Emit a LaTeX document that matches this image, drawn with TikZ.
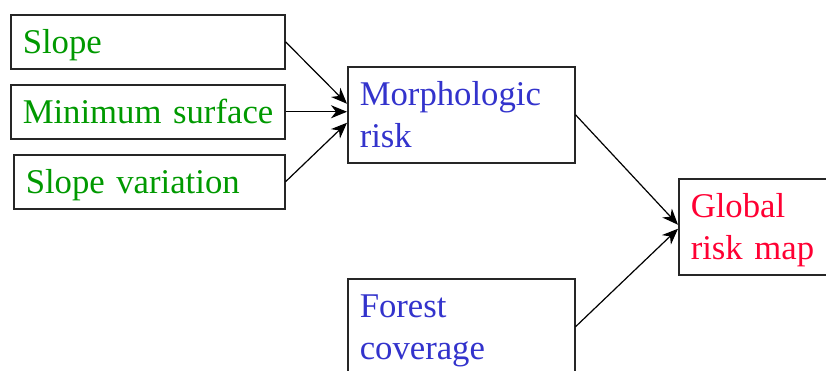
\documentclass[tikz,border=0pt]{standalone}
\usepackage{fontspec}
\setmainfont{Liberation Serif}[WordSpace=0.75]
\usetikzlibrary{arrows.meta}
\definecolor{factgreen}{RGB}{0,153,0}
\definecolor{riskblue}{RGB}{51,51,204}
\definecolor{mapred}{RGB}{255,0,51}

\begin{document}
\begin{tikzpicture}[x=1pt, y=-1pt, >={Stealth[length=16pt,width=13pt,inset=5pt]},
    box/.style={draw=black!85, line width=1.5pt, rectangle, anchor=north west, inner xsep=12pt, inner ysep=0pt, align=left, font=\fontsize{34.7}{41.5}\selectfont},
    onebox/.style={box, text height=30pt, text depth=6pt, minimum height=54pt},
    twobox/.style={box, text height=24pt, text depth=42pt, minimum height=96pt}]
    \useasboundingbox (0,0) rectangle (826,370);
    % Nodes
    \node[onebox, text width=250pt, text=factgreen] (slope) at (10,14) {\mbox{Slope}};
    \node[onebox, text width=250pt, text=factgreen] (minsurf) at (10,84) {\mbox{Minimum surface}};
    \node[onebox, text width=247pt, text=factgreen] (slopevar) at (13,154) {\mbox{Slope variation}};
    \node[twobox, text width=203pt, text=riskblue] (morph) at (347,66) {Morphologic\\risk};
    \node[twobox, text width=203pt, text=riskblue] (forest) at (347,278) {Forest\\coverage};
    \node[twobox, text width=128pt, text=mapred] (global) at (678,178) {Global\\\mbox{risk map}};

    % Edges
    \draw[->, line width=1.2pt] (slope.east) -- ([yshift=11pt]morph.west);
    \draw[->, line width=1.2pt] (minsurf.east) -- (minsurf.east -| morph.west);
    \draw[->, line width=1.2pt] (slopevar.east) -- ([yshift=-8pt]morph.west);
    \draw[->, line width=1.2pt] (morph.east) -- ([yshift=2pt]global.west);
    \draw[->, line width=1.2pt] (forest.east) -- ([yshift=-2pt]global.west);
\end{tikzpicture}
\end{document}
